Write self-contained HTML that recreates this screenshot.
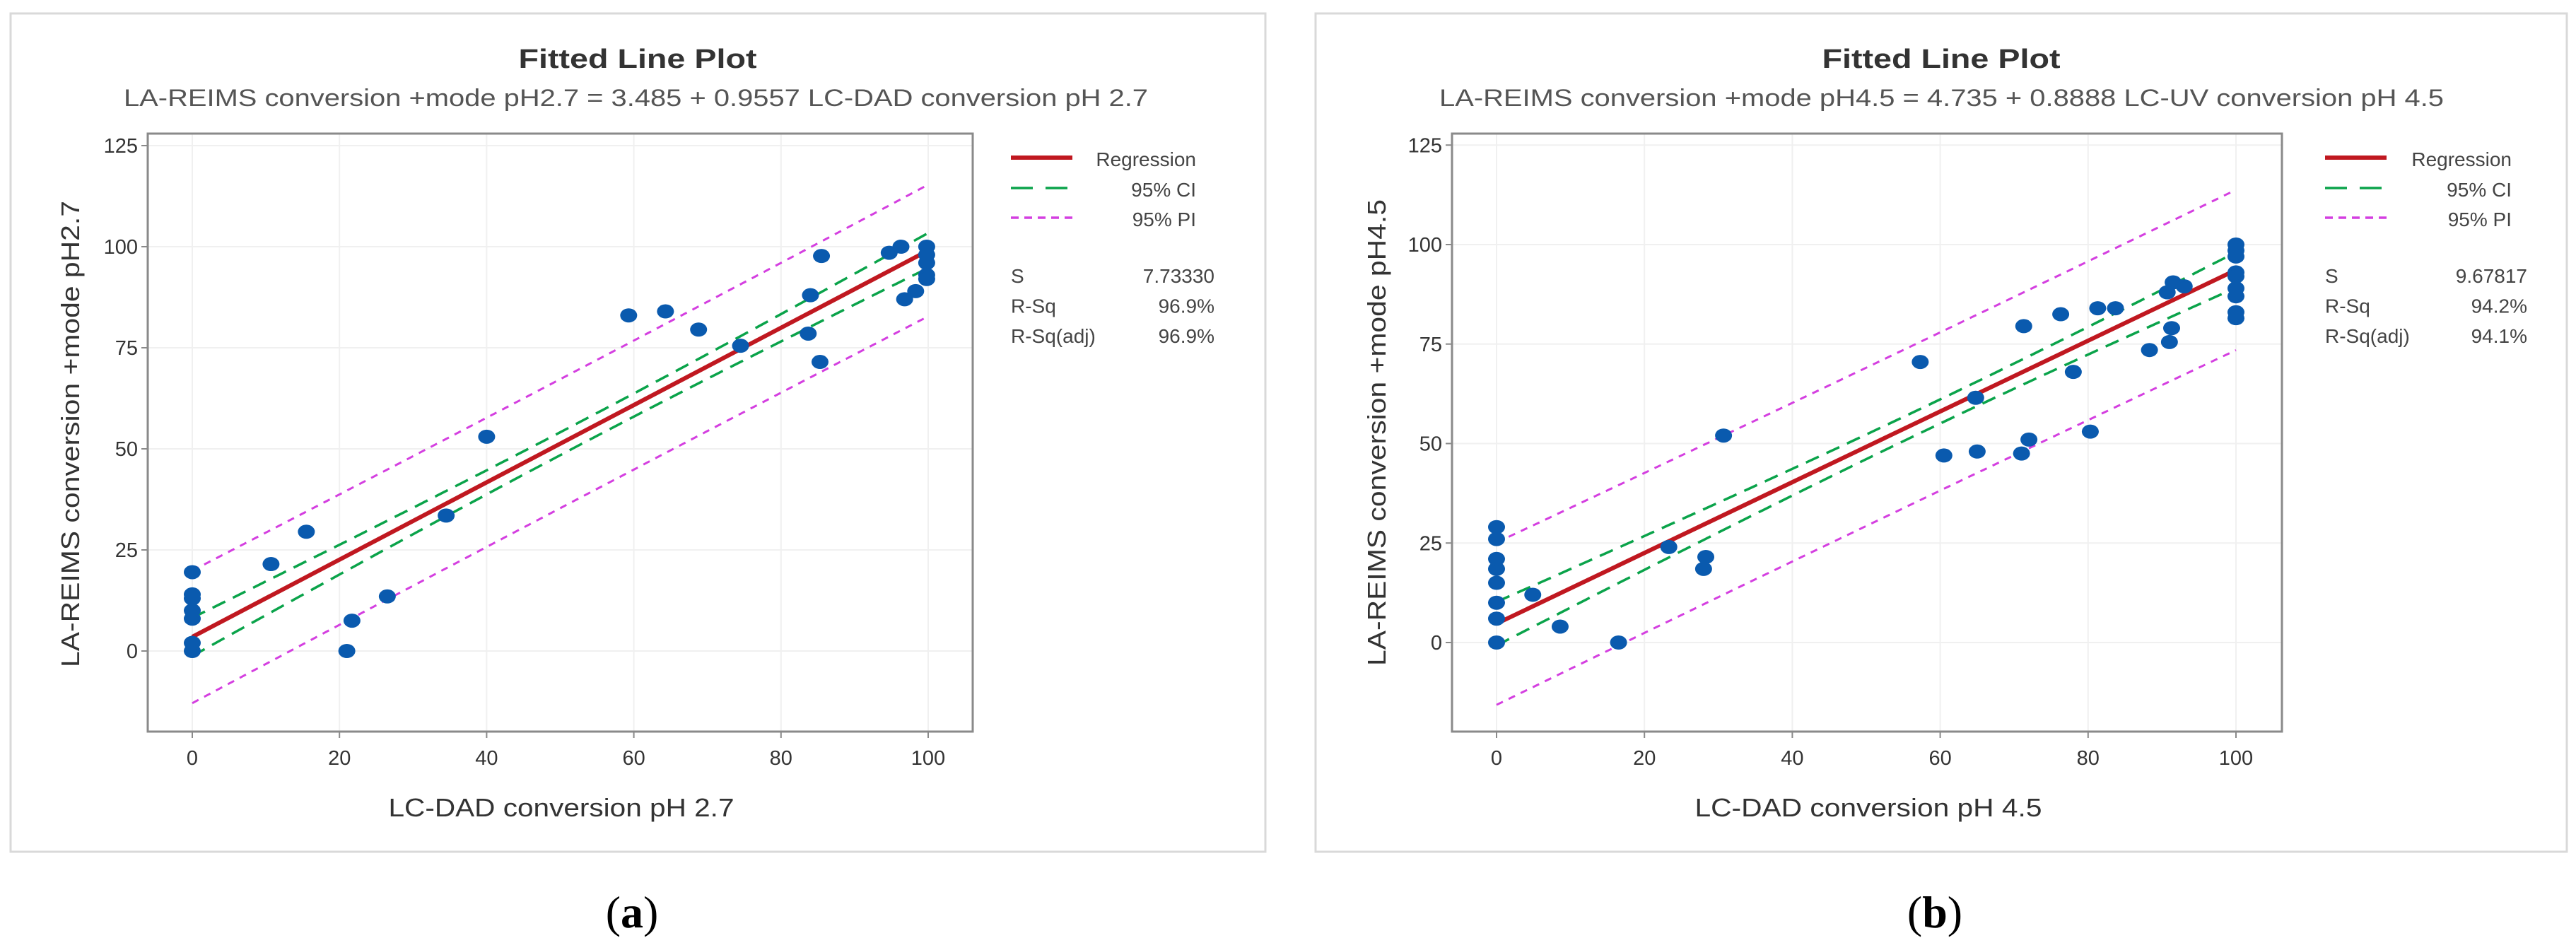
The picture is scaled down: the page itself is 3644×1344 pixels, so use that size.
<!DOCTYPE html>
<html><head><meta charset="utf-8"><style>
html,body{margin:0;padding:0;background:#fff}
svg{display:block}
text{font-family:"Liberation Sans",sans-serif}
</style></head><body>
<svg id="fig" width="3644" height="1344" viewBox="0 0 3644 1344" xmlns="http://www.w3.org/2000/svg">
<rect x="0" y="0" width="3644" height="1344" fill="#fff"/>
</svg>
<script>
// ---- Panel (a) data ----
const aX = [0,0,0,0,0,0,0,10.7,15.5,21,21.7,26.5,34.5,40,59.3,64.3,68.8,74.5,83.7,84,85.3,85.5,94.7,96.3,96.8,98.3,99.8,99.8,99.8,99.8,99.8];
const aY = [0,2,8,10,13,14,19.5,21.5,29.5,0,7.5,13.5,33.5,53,83,84,79.5,75.5,78.5,88,71.5,97.7,98.5,100,87,89,100,98,96,93,92];
const aCoef = [3.485, 0.9557];
const aStats = ["7.73330","96.9%","96.9%"];
// ---- Panel (b) data ----
const bX = [0,0,0,0,0,0,0,0,4.9,8.6,16.5,23.3,28,28.3,30.7,57.3,60.5,64.8,65,71,71.3,72,76.3,78,80.3,81.3,83.7,88.3,90.7,91,91.3,91.5,93,100,100,100,100,100,100,100,100,100];
const bY = [0,6,10,15,18.5,21,26,29,12,4,0,24,18.5,21.5,52,70.5,47,61.5,48,47.5,79.5,51,82.5,68,53,84,84,73.5,88,75.5,79,90.5,89.5,100,98.5,97,93,92,89,87,83,81.5];
const bCoef = [4.735, 0.8888];
const bStats = ["9.67817","94.2%","94.1%"];
// ticks
const xTicks = [0,20,40,60,80,100];
const yTicks = [0,25,50,75,100,125];
const statLabels = ["S","R-Sq","R-Sq(adj)"];

const NS="http://www.w3.org/2000/svg";
const svg=document.getElementById('fig');
function el(tag,attrs,parent,txt){const e=document.createElementNS(NS,tag);for(const k in attrs)e.setAttribute(k,attrs[k]);if(txt!==undefined)e.textContent=txt;(parent||svg).appendChild(e);return e;}

function drawPanel(p,xs,ys,coef,stats){
  const g=el('g',{});
  
  
  const fr=el('rect',{x:p.fx,y:p.fy,width:p.fw,height:p.fh,fill:'#fff',stroke:'#d9d9d9','stroke-width':3},g);
  
  
  const sx=v=>p.x0+(v-0)*(p.x100-p.x0)/100;
  const sy=v=>p.y0+(v-0)*(p.y100-p.y0)/100;
  let t=el('text',{x:p.tcx,y:p.ty,'text-anchor':'middle','font-size':38,'font-weight':'bold',fill:'#333',textLength:p.tw,lengthAdjust:'spacingAndGlyphs'},g,'Fitted Line Plot');
  
  
  t=el('text',{x:p.sx0,y:p.sty,'font-size':34,fill:'#555',textLength:p.sw,lengthAdjust:'spacingAndGlyphs'},g,p.sub);
  
  
  xTicks.forEach(v=>{const l=el('line',{x1:sx(v),x2:sx(v),y1:p.by0,y2:p.by1,stroke:'#f0f0f0','stroke-width':2},g);
    });
  yTicks.forEach(v=>{const l=el('line',{x1:p.bx0,x2:p.bx1,y1:sy(v),y2:sy(v),stroke:'#f0f0f0','stroke-width':2},g);
    });
  const n=xs.length;const xm=xs.reduce((a,b)=>a+b,0)/n;let sxx=0;xs.forEach(v=>sxx+=(v-xm)*(v-xm));
  const S=parseFloat(stats[0]);const tq=2.03;
  const xmin=Math.min(...xs),xmax=Math.max(...xs);
  function band(sign,pi){let d='';for(let i=0;i<=50;i++){const x=xmin+(xmax-xmin)*i/50;const h=tq*S*Math.sqrt((pi?1:0)+1/n+(x-xm)*(x-xm)/sxx);const y=coef[0]+coef[1]*x+sign*h;d+=(i?'L':'M')+sx(x).toFixed(1)+' '+sy(y).toFixed(1);}return d;}
  [[1,true],[-1,true]].forEach(([s,pi])=>{const e=el('path',{d:band(s,pi),fill:'none',stroke:'#d43fe0','stroke-width':3,'stroke-dasharray':'10 9'},g);
    });
  [[1,false],[-1,false]].forEach(([s,pi])=>{const e=el('path',{d:band(s,pi),fill:'none',stroke:'#0aa34a','stroke-width':3.5,'stroke-dasharray':'20 12'},g);
    });
  const rl=el('line',{x1:sx(xmin),y1:sy(coef[0]+coef[1]*xmin),x2:sx(xmax),y2:sy(coef[0]+coef[1]*xmax),stroke:'#c01820','stroke-width':6},g);
  
  xs.forEach((v,i)=>{const c=el('ellipse',{cx:sx(v),cy:sy(ys[i]),rx:12,ry:10,fill:'#0a5aae'},g);
    });
  const box=el('rect',{x:p.bx0,y:p.by0,width:p.bx1-p.bx0,height:p.by1-p.by0,fill:'none',stroke:'#8a8a8a','stroke-width':3},g);
  
  xTicks.forEach(v=>{el('line',{x1:sx(v),x2:sx(v),y1:p.by1,y2:p.by1+9,stroke:'#8a8a8a','stroke-width':2},g);
    const tt=el('text',{x:sx(v),y:p.by1+47,'text-anchor':'middle','font-size':29,fill:'#333'},g,String(v));
    });
  yTicks.forEach(v=>{el('line',{x1:p.bx0-9,x2:p.bx0,y1:sy(v),y2:sy(v),stroke:'#8a8a8a','stroke-width':2},g);
    const tt=el('text',{x:p.bx0-14,y:sy(v)+10,'text-anchor':'end','font-size':29,fill:'#333'},g,String(v));
    });
  t=el('text',{x:p.xtcx,y:p.xty,'text-anchor':'middle','font-size':36,fill:'#333',textLength:p.xtw,lengthAdjust:'spacingAndGlyphs'},g,p.xt);
  
  t=el('text',{x:0,y:0,'text-anchor':'middle','font-size':36,fill:'#333',textLength:p.ytw,lengthAdjust:'spacingAndGlyphs',transform:`translate(${p.ytx},${p.ytcy}) rotate(-90)`},g,p.yt);
  
  const L=p.lx0,R=p.lx1;
  let e=el('line',{x1:L,x2:L+87,y1:223,y2:223,stroke:'#c01820','stroke-width':6},g);
  
  e=el('line',{x1:L,x2:L+87,y1:266,y2:266,stroke:'#0aa34a','stroke-width':3.5,'stroke-dasharray':'31 18'},g);
  
  e=el('line',{x1:L,x2:L+87,y1:308,y2:308,stroke:'#d43fe0','stroke-width':3.5,'stroke-dasharray':'11 8'},g);
  
  [['Regression',235],['95% CI',278],['95% PI',320]].forEach(([s,y])=>{const tt=el('text',{x:R,y:y,'text-anchor':'end','font-size':28,fill:'#444'},g,s);
    });
  statLabels.forEach((s,i)=>{const y=400+i*42.5;
    let tt=el('text',{x:L,y:y,'font-size':28,fill:'#444'},g,s);
    
    tt=el('text',{x:p.vx,y:y,'text-anchor':'end','font-size':28,fill:'#444'},g,stats[i]);
    });
  t=el('text',{x:p.capx,y:1312,'text-anchor':'middle','font-size':64,fill:'#000'},g,'');
  t.style.fontFamily='"Liberation Serif",serif';
  t.appendChild(document.createTextNode('('));
  el('tspan',{'font-weight':'bold'},t,p.cap);
  t.appendChild(document.createTextNode(')'));
  
}

drawPanel({name:'panel-a',fx:15,fy:19,fw:1775,fh:1186,tcx:902,ty:96,tw:337,sx0:175,sty:150,sw:1449,
  sub:'LA-REIMS conversion +mode pH2.7 = 3.485 + 0.9557 LC-DAD conversion pH 2.7',
  bx0:209,bx1:1376,by0:189,by1:1035,x0:272,x100:1313,y0:921,y100:349,
  xt:'LC-DAD conversion pH 2.7',xtcx:794,xty:1155,xtw:489,yt:'LA-REIMS conversion +mode pH2.7',ytx:112,ytcy:614,ytw:660,
  lx0:1430,lx1:1692,vx:1718,capx:894,cap:'a'},aX,aY,aCoef,aStats);

drawPanel({name:'panel-b',fx:1861,fy:19,fw:1770,fh:1186,tcx:2746,ty:96,tw:337,sx0:2036,sty:150,sw:1421,
  sub:'LA-REIMS conversion +mode pH4.5 = 4.735 + 0.8888 LC-UV conversion pH 4.5',
  bx0:2054,bx1:3228,by0:189,by1:1035,x0:2117,x100:3163,y0:909,y100:346,
  xt:'LC-DAD conversion pH 4.5',xtcx:2643,xty:1155,xtw:491,yt:'LA-REIMS conversion +mode pH4.5',ytx:1960,ytcy:612,ytw:660,
  lx0:3289,lx1:3553,vx:3575,capx:2737,cap:'b'},bX,bY,bCoef,bStats);
</script>
</body></html>
